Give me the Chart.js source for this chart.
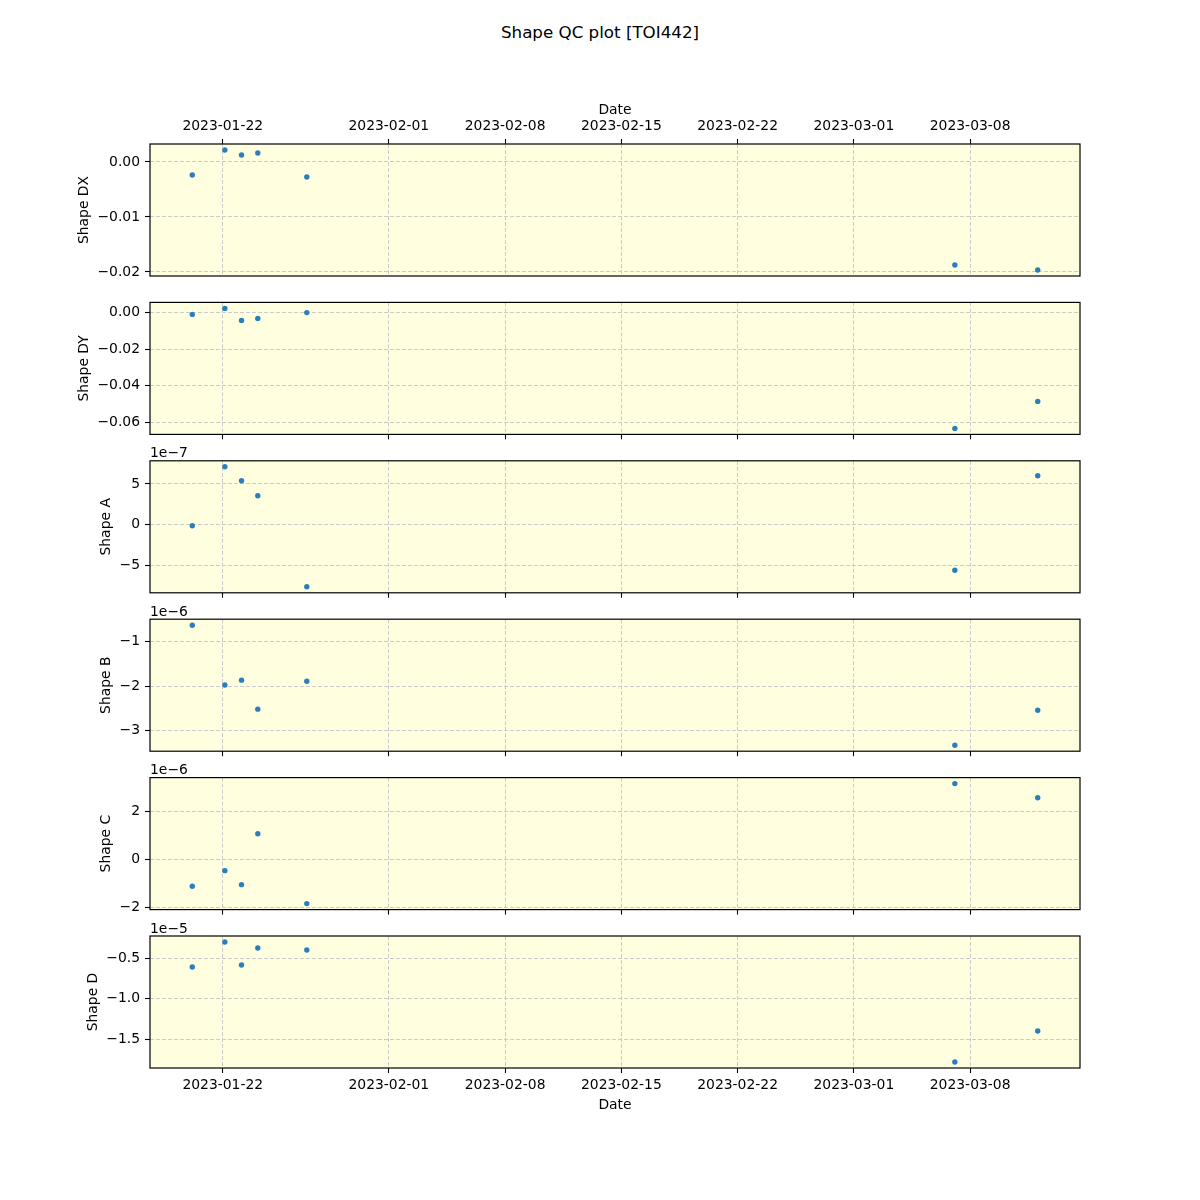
<!DOCTYPE html>
<html>
<head>
<meta charset="utf-8">
<script src="https://cdn.jsdelivr.net/npm/chart.js@4.4.1/dist/chart.umd.min.js"></script>
<style>
html,body{margin:0;padding:0;background:#ffffff;}
#wrap{position:relative;width:1200px;height:1200px;overflow:hidden;}
#wrap canvas{position:absolute;left:0;top:0;}
#suptitle{position:absolute;left:0;top:22px;width:1200px;text-align:center;font-family:"DejaVu Sans",sans-serif;font-size:16.7px;line-height:20px;color:#000;}
</style>
</head>
<body>
<div id="wrap">
  <div id="suptitle">Shape QC plot [TOI442]</div>
  <canvas id="c0" width="1200" height="1200"></canvas>
  <canvas id="c1" width="1200" height="1200"></canvas>
  <canvas id="c2" width="1200" height="1200"></canvas>
  <canvas id="c3" width="1200" height="1200"></canvas>
  <canvas id="c4" width="1200" height="1200"></canvas>
  <canvas id="c5" width="1200" height="1200"></canvas>
</div>
<script>
// ---------------- DATA ----------------
const dates = ["2023-01-20T03:56:00Z","2023-01-22T03:01:00Z","2023-01-23T03:07:00Z","2023-01-24T02:38:00Z","2023-01-27T01:26:00Z","2023-03-07T01:55:00Z","2023-03-12T01:41:00Z"];
const xTickLabels = ["2023-01-22","2023-02-01","2023-02-08","2023-02-15","2023-02-22","2023-03-01","2023-03-08"];

const shapeDX = [-0.00236, 0.00218, 0.00127, 0.00164, -0.00273, -0.01873, -0.01964];
const shapeDY = [-0.00109, 0.00219, -0.00437, -0.00328, -0.0001, -0.06339, -0.04863];
const shapeA  = [-0.12e-7, 7.10e-7, 5.39e-7, 3.55e-7, -7.59e-7, -5.56e-7, 6.00e-7];
const shapeB  = [-0.622e-6, -1.977e-6, -1.867e-6, -2.524e-6, -1.890e-6, -3.340e-6, -2.547e-6];
const shapeC  = [-1.11e-6, -0.458e-6, -1.04e-6, 1.083e-6, -1.83e-6, 3.17e-6, 2.58e-6];
const shapeD  = [-0.610e-5, -0.304e-5, -0.586e-5, -0.378e-5, -0.402e-5, -1.773e-5, -1.394e-5];

const yTicksDX = [-0.02, -0.01, 0.00];
const yTicksDY = [-0.06, -0.04, -0.02, 0.00];
const yTicksA  = [-5e-7, 0, 5e-7];
const yTicksB  = [-3e-6, -2e-6, -1e-6];
const yTicksC  = [-2e-6, 0, 2e-6];
const yTicksD  = [-1.5e-5, -1.0e-5, -0.5e-5];

const panelLabels = ["Shape DX", "Shape DY", "Shape A", "Shape B", "Shape C", "Shape D"];
const panelValues = [shapeDX, shapeDY, shapeA, shapeB, shapeC, shapeD];
const panelTicks  = [yTicksDX, yTicksDY, yTicksA, yTicksB, yTicksC, yTicksD];
const panelExp    = [0, 0, -7, -6, -6, -5];
const panelDec    = [2, 2, 0, 0, 0, 1];

// ---------------- LAYOUT ----------------
const FIG = {left:150, right:1080, top:144, bottom:1068, hspace:0.2};
const N = panelLabels.length;
const axH = (FIG.bottom - FIG.top) / (N + FIG.hspace * (N - 1));
const gapH = axH * FIG.hspace;

const FONT = "'DejaVu Sans', sans-serif";
const FS = 13.9;
Chart.defaults.font.family = FONT;
Chart.defaults.font.size = FS;
Chart.defaults.color = '#000000';

const xs = dates.map(d => Date.parse(d));
const xMinD = Math.min(...xs), xMaxD = Math.max(...xs);
const xMarg = (xMaxD - xMinD) * 0.05;
const xTickVals = xTickLabels.map(d => Date.parse(d + "T00:00:00Z"));

function fmt(v, exp, dec) {
  let s = v / Math.pow(10, exp);
  if (Math.abs(s) < 1e-9) s = 0;
  let t = s.toFixed(dec);
  if (t.charAt(0) === '-') t = '\u2212' + t.slice(1);
  return t;
}

const decor = {
  id: 'decor',
  beforeDraw(chart) {
    const {ctx, chartArea: ca} = chart;
    ctx.save();
    ctx.fillStyle = '#FFFFE0';
    ctx.fillRect(ca.left, ca.top, ca.width, ca.height);
    ctx.restore();
  },
  afterDraw(chart, args, opts) {
    const {ctx, chartArea: ca} = chart;
    ctx.save();
    ctx.strokeStyle = '#000000';
    ctx.lineWidth = 1.2;
    ctx.strokeRect(ca.left, ca.top, ca.width, ca.height);
    if (opts && opts.offsetText) {
      ctx.fillStyle = '#000000';
      ctx.font = FS + "px " + FONT;
      ctx.textAlign = 'left';
      ctx.textBaseline = 'alphabetic';
      ctx.fillText(opts.offsetText, ca.left, ca.top - 3.5);
    }
    ctx.restore();
  }
};

const gridColor = '#cbcbcb';
const charts = [];
const targets = [];

for (let i = 0; i < N; i++) {
  const top = FIG.top + i * (axH + gapH);
  targets.push({left: FIG.left, right: FIG.right, top: top, bottom: top + axH});
  const vals = panelValues[i];
  const yMinD = Math.min(...vals), yMaxD = Math.max(...vals);
  const yMarg = (yMaxD - yMinD) * 0.05;
  const tks = panelTicks[i];
  const exp = panelExp[i], dec = panelDec[i];
  const isFirst = i === 0, isLast = i === N - 1;

  const cfg = {
    type: 'scatter',
    data: {
      datasets: [{
        data: xs.map((x, k) => ({x: x, y: vals[k]})),
        backgroundColor: '#2a7fba',
        borderWidth: 0,
        pointRadius: 2.7,
        pointHoverRadius: 2.7
      }]
    },
    options: {
      responsive: false,
      animation: false,
      devicePixelRatio: 1,
      events: [],
      layout: {padding: {left: 0, right: 0, top: 0, bottom: 0}},
      plugins: {
        legend: {display: false},
        tooltip: {enabled: false},
        decor: {offsetText: exp !== 0 ? ('1e\u2212' + Math.abs(exp)) : ''}
      },
      scales: {
        x: {
          type: 'linear',
          position: isFirst ? 'top' : 'bottom',
          min: xMinD - xMarg,
          max: xMaxD + xMarg,
          afterBuildTicks: (sc) => { sc.ticks = xTickVals.map(v => ({value: v})); },
          ticks: {
            display: isFirst || isLast,
            autoSkip: false,
            maxRotation: 0,
            padding: 4.5,
            callback: (v) => new Date(v).toISOString().slice(0, 10)
          },
          grid: {
            color: gridColor,
            lineWidth: 1,
            drawTicks: true,
            tickLength: 5,
            tickColor: '#000000',
            tickWidth: 1.1
          },
          border: {display: false, dash: [4, 2]},
          title: {
            display: isFirst || isLast,
            text: 'Date',
            padding: isFirst ? {top: 0, bottom: -5} : {top: -2, bottom: 0},
            font: {size: FS}
          }
        },
        y: {
          type: 'linear',
          min: yMinD - yMarg,
          max: yMaxD + yMarg,
          afterBuildTicks: (sc) => { sc.ticks = tks.map(v => ({value: v})); },
          ticks: {
            autoSkip: false,
            padding: 5,
            callback: (v) => fmt(v, exp, dec)
          },
          grid: {
            color: gridColor,
            lineWidth: 1,
            drawTicks: true,
            tickLength: 5,
            tickColor: '#000000',
            tickWidth: 1.1
          },
          border: {display: false, dash: [4, 2]},
          title: {
            display: true,
            text: panelLabels[i],
            padding: {top: 0, bottom: 0},
            font: {size: FS}
          }
        }
      }
    },
    plugins: [decor]
  };
  charts.push(new Chart(document.getElementById('c' + i), cfg));
}

// iterate: pin each chart area to the matplotlib-like subplot box
charts.forEach((ch, i) => {
  const t = targets[i];
  const p = {left: 0, right: 0, top: 0, bottom: 0};
  for (let it = 0; it < 6; it++) {
    const ca = ch.chartArea;
    p.left += t.left - ca.left;
    p.right += ca.right - t.right;
    p.top += t.top - ca.top;
    p.bottom += ca.bottom - t.bottom;
    ch.options.layout.padding = {left: p.left, right: p.right, top: p.top, bottom: p.bottom};
    ch.update('none');
  }
});
</script>
</body>
</html>
